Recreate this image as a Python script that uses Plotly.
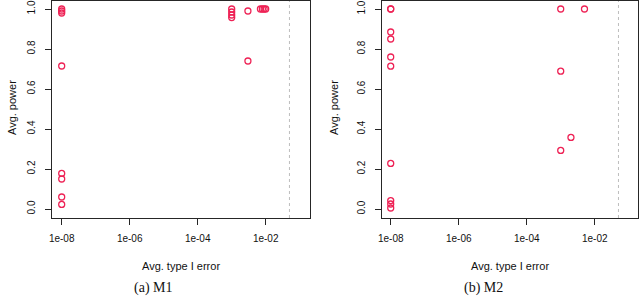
import plotly.graph_objects as go

# ---- data ----
m1_type1 = [1e-8, 1e-8, 1e-8, 1e-8, 1e-8, 1e-8, 1e-8, 1e-8,
            1e-3, 1e-3, 1e-3, 1e-3, 3e-3, 3e-3, 7e-3, 8e-3, 9e-3, 1e-2]
m1_power = [1.0, 0.99, 0.98, 0.715, 0.178, 0.15, 0.06, 0.023,
            1.0, 0.985, 0.97, 0.957, 0.99, 0.74, 1.0, 1.0, 1.0, 1.0]

m2_type1 = [1e-8, 1e-8, 1e-8, 1e-8, 1e-8, 1e-8, 1e-8, 1e-8, 1e-8, 1e-8,
            1e-3, 1e-3, 1e-3, 2e-3, 5e-3]
m2_power = [1.0, 1.0, 0.885, 0.85, 0.76, 0.714, 0.228, 0.042, 0.025, 0.005,
            1.0, 0.689, 0.293, 0.358, 1.0]

alpha = 0.05
x_tickvals = [1e-8, 1e-6, 1e-4, 1e-2]
x_ticktext = ["1e-08", "1e-06", "1e-04", "1e-02"]
y_tickvals = [0.0, 0.2, 0.4, 0.6, 0.8, 1.0]
y_ticktext = ["0.0", "0.2", "0.4", "0.6", "0.8", "1.0"]
captions = ["(a) M1", "(b) M2"]
x_title = "Avg. type I error"
y_title = "Avg. power"

W, H = 640, 298
RED = "#EE2255"
AX = "#262626"
FONT = "Liberation Sans, Arial, sans-serif"

fig = go.Figure()

panels = [
    dict(x=m1_type1, y=m1_power, xdom=[52, 310], xr=[-8.285, -0.697], xa="x", ya="y"),
    dict(x=m2_type1, y=m2_power, xdom=[381.7, 638], xr=[-8.265, -0.727], xa="x2", ya="y2"),
]
yr = [-0.045, 1.04]
ydom = [(H - 218) / H, (H - 1) / H]

for i, p in enumerate(panels):
    fig.add_trace(go.Scatter(
        x=[alpha, alpha], y=yr, mode="lines", xaxis=p["xa"], yaxis=p["ya"],
        line=dict(color="#BEBEBE", width=1, dash="3px,3px"),
        hoverinfo="skip", showlegend=False))
    fig.add_trace(go.Scatter(
        x=p["x"], y=p["y"], mode="markers", xaxis=p["xa"], yaxis=p["ya"],
        marker=dict(symbol="circle-open", size=6, color=RED,
                    line=dict(color=RED, width=1.3)),
        showlegend=False))

    sfx = "" if i == 0 else "2"
    common = dict(showline=True, mirror=True, linecolor=AX, linewidth=1,
                  ticks="outside", ticklen=6, tickcolor=AX, tickwidth=1,
                  showgrid=False, zeroline=False, automargin=False,
                  tickfont=dict(family=FONT, size=10, color="#111"))
    fig.update_layout(**{
        "xaxis" + sfx: dict(type="log", domain=[p["xdom"][0] / W, p["xdom"][1] / W],
                            range=p["xr"], tickvals=x_tickvals, ticktext=x_ticktext,
                            anchor="y" + sfx, ticklabelstandoff=5, **common),
        "yaxis" + sfx: dict(domain=ydom, range=yr, tickvals=y_tickvals,
                            ticktext=y_ticktext, tickangle=-90,
                            anchor="x" + sfx, ticklabelstandoff=6, **common),
    })

    xc = (p["xdom"][0] + p["xdom"][1]) / 2
    ann = dict(xref="paper", yref="paper", showarrow=False,
               xanchor="center", yanchor="middle")
    fig.add_annotation(x=xc / W, y=1 - 266 / H, text=x_title,
                       font=dict(family=FONT, size=11, color="#111"), **ann)
    fig.add_annotation(x=(12 if i == 0 else 334) / W, y=1 - 108 / H,
                       text=y_title, textangle=-90,
                       font=dict(family=FONT, size=11, color="#111"), **ann)
    fig.add_annotation(x=(153 if i == 0 else 483) / W, y=1 - 288 / H,
                       text=captions[i],
                       font=dict(family="Liberation Serif, DejaVu Serif, serif",
                                 size=14, color="#111"), **ann)

fig.update_layout(width=W, height=H, margin=dict(l=0, r=0, t=0, b=0, autoexpand=False),
                  paper_bgcolor="white", plot_bgcolor="white")

fig.write_html("out.html", config={"displayModeBar": False},
               post_script="document.body.style.margin='0px';"
                           "document.body.style.overflow='hidden';")
